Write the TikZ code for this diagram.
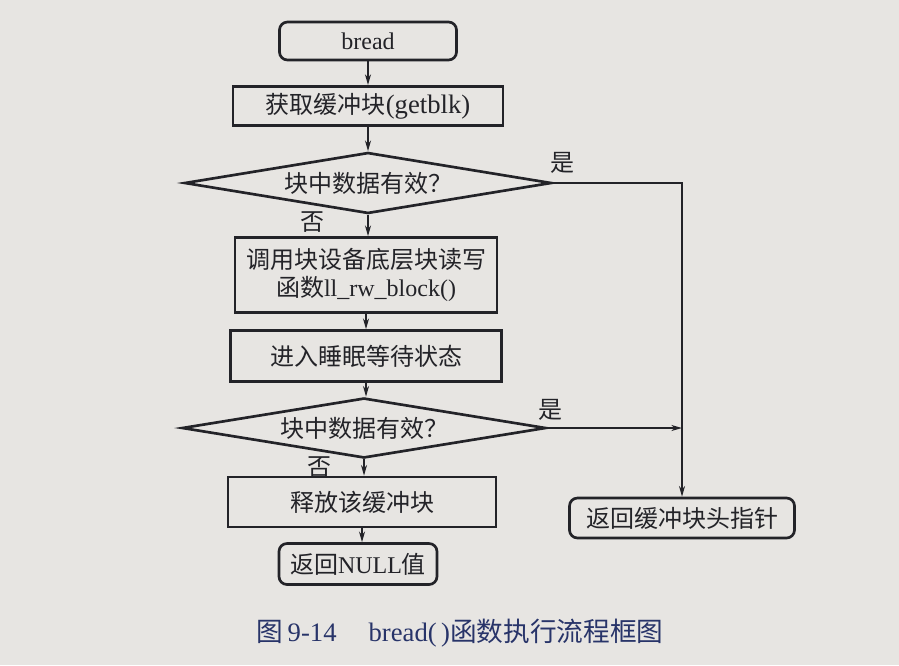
\documentclass[tikz,border=0pt]{standalone}
\usepackage{fontspec}
\setmainfont{Liberation Serif}
\newfontfamily\cjk{Noto Sans CJK SC}
\usetikzlibrary{shapes.geometric,arrows.meta}
\definecolor{paper}{RGB}{231,229,226}
\definecolor{ink}{RGB}{35,35,40}
\definecolor{capblue}{RGB}{40,52,105}
\begin{document}
\begin{tikzpicture}[x=0.75pt,y=-0.75pt,
  every node/.style={text=ink,font=\fontsize{18}{21}\selectfont},
  procbox/.style={draw=ink,line width=2pt,rectangle,inner sep=0pt,align=center},
  termbox/.style={procbox,rounded corners=6pt},
  decide/.style={draw=ink,line width=2pt,diamond,aspect=6,inner sep=0pt},
  conn/.style={draw=ink,line width=1.1pt,-{Stealth[length=8pt,width=4.5pt,inset=2.5pt]}},
  lab/.style={font=\fontsize{18}{21}\selectfont\cjk}]
\path[fill=paper] (0,0) rectangle (899,665);
\useasboundingbox (0,0) rectangle (899,665);

\node[termbox,minimum width=132.75pt,minimum height=28.5pt] (bread) at (368,41) {bread};
\node[procbox,minimum width=202.5pt,minimum height=29.5pt] (getblk) at (368,106) {{\cjk 获取缓冲块}{\fontsize{20}{21}\selectfont(getblk)}};
\node[decide,minimum width=275.25pt,minimum height=45.75pt] (d1) at (368,183) {\cjk 块中数据有效？};
\node[procbox,minimum width=196.5pt,minimum height=56.25pt] (llrw) at (366,275) {{\cjk 调用块设备底层块读写}\\{\cjk 函数}ll\_rw\_block()};
\node[procbox,minimum width=203.25pt,minimum height=38.25pt] (sleep) at (366,356) {\cjk 进入睡眠等待状态};
\node[decide,minimum width=273pt,minimum height=45pt] (d2) at (364,428) {\cjk 块中数据有效？};
\node[procbox,minimum width=201pt,minimum height=37.5pt] (release) at (362,502) {\cjk 释放该缓冲块};
\node[termbox,minimum width=118.5pt,minimum height=30.75pt] (null) at (358,564) {{\cjk 返回}NULL{\cjk 值}};
\node[termbox,minimum width=168.75pt,minimum height=30pt] (ptr) at (682,518) {\cjk 返回缓冲块头指针};

\path[conn] (bread.south) -- (bread.south |- getblk.north);
\path[conn] (getblk.south) -- (getblk.south |- d1.north);
\path[conn] (d1.south) -- (d1.south |- llrw.north);
\path[conn] (llrw.south) -- (llrw.south |- sleep.north);
\path[conn] (sleep.south) -- (sleep.south |- d2.north);
\path[conn] (d2.south) -- (d2.south |- release.north);
\path[conn] (release.south) -- (release.south |- null.north);
\path[conn] (d1.east) -- (d1.east -| ptr.north) -- (ptr.north);
\path[conn] (d2.east) -- (d2.east -| ptr.north);

\node[lab] (yes1) at (562,163) {是};
\node[lab] (no1) at (312,222) {否};
\node[lab] (yes2) at (550,410) {是};
\node[lab] (no2) at (319,467) {否};

\node[text=capblue,font=\fontsize{20}{22}\selectfont] (cap) at (460,633)
  {{\cjk 图}\,9-14\hspace{24pt}bread(\,){\cjk 函数执行流程框图}};
\end{tikzpicture}
\end{document}
